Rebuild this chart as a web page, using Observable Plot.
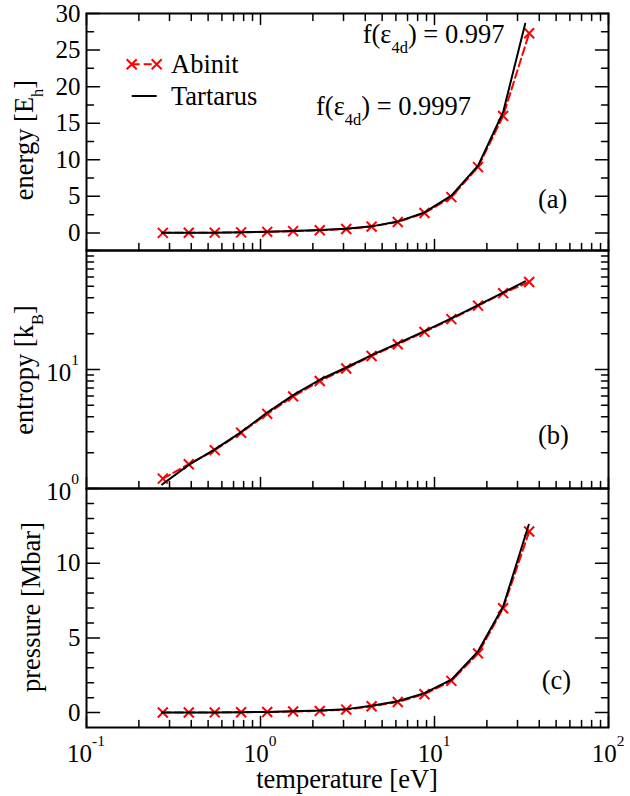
<!DOCTYPE html>
<html><head><meta charset="utf-8">
<script src="https://cdn.jsdelivr.net/npm/d3@7"></script>
<script src="https://cdn.jsdelivr.net/npm/@observablehq/plot@0.6"></script>
<style>
body{margin:0;background:#fff;}
#chart{position:relative;width:630px;height:796px;background:#fff;font-family:"Liberation Serif","Times New Roman",serif;}
#chart svg{position:absolute;left:0;overflow:visible;background:transparent;}
</style></head><body><div id="chart"></div>
<script>
// ---- data ----
const temperature = [0.2745,0.387,0.546,0.774,1.093,1.54,2.19,3.11,4.35,6.15,8.76,12.5,17.8,24.8,35.0];
const temperatureTartarus = [0.272,0.387,0.546,0.774,1.093,1.54,2.19,3.11,4.35,6.15,8.76,12.5,17.8,24.8,33.2];
const temperatureTartarusP = [0.272,0.387,0.546,0.774,1.093,1.54,2.19,3.11,4.35,6.15,8.76,12.5,17.8,24.8,34.8];
const energyAbinit   = [0.01,0.02,0.04,0.08,0.15,0.25,0.37,0.54,0.87,1.5,2.72,4.9,9.0,16.0,27.3];
const energyTartarus = [0.01,0.02,0.04,0.08,0.15,0.26,0.39,0.57,0.9,1.55,2.8,5.1,9.2,16.5,28.6];
const entropyAbinit   = [1.21,1.6,2.1,2.94,4.24,5.94,8.0,10.2,13.0,16.3,20.7,26.5,34.4,43.8,54.3];
const entropyTartarus = [1.08,1.58,2.13,2.98,4.35,6.1,8.2,10.4,13.2,16.6,21.0,26.9,34.8,44.2,55.0];
const pressureAbinit   = [0.0,0.0,0.01,0.02,0.04,0.07,0.11,0.2,0.42,0.71,1.23,2.12,3.96,6.98,12.12];
const pressureTartarus = [0.0,0.0,0.01,0.02,0.04,0.08,0.13,0.23,0.46,0.76,1.3,2.2,4.1,7.1,12.57];

const xMajor = [0.1,1,10,100];
const xExponents = ["-1","0","1","2"];
const xMinor = [0.1,1,10].flatMap(d => [2,3,4,5,6,7,8,9].map(k => k*d));
const energyTicks = [0,5,10,15,20,25,30];
const energyMinor = [2.5,7.5,12.5,17.5,22.5,27.5];
const entropyMajor = [1,10,100];
const entropyLabels = [1,10];
const entropyExponents = ["0","1"];
const entropyMinor = [1,10].flatMap(d => [2,3,4,5,6,7,8,9].map(k => k*d));
const pressureTicks = [0,5,10];
const pressureMinor = [1,2,3,4,6,7,8,9,11,12,13,14];

const FONT = '"Liberation Serif","Times New Roman",serif';
const chart = document.getElementById("chart");

const tickShape = {draw(c, l) { c.moveTo(0, 0); c.lineTo(0, -l); }};
function yTickMarks(values, len) {
  return [
    Plot.vector(values, {y: d => d, frameAnchor: "left", rotate: 90, length: len, anchor: "start", shape: tickShape, stroke: "black", strokeWidth: 1.5}),
    Plot.vector(values, {y: d => d, frameAnchor: "right", rotate: -90, length: len, anchor: "start", shape: tickShape, stroke: "black", strokeWidth: 1.5})
  ];
}
function xTickMarks(values, len, top) {
  const m = [Plot.vector(values, {x: d => d, frameAnchor: "bottom", rotate: 0, length: len, anchor: "start", shape: tickShape, stroke: "black", strokeWidth: 1.5})];
  if (top) m.push(Plot.vector(values, {x: d => d, frameAnchor: "top", rotate: 180, length: len, anchor: "start", shape: tickShape, stroke: "black", strokeWidth: 1.5}));
  return m;
}
function seriesMarks(tA, yA, tT, yT) {
  const A = tA.map((t, i) => ({t, v: yA[i]}));
  const T = tT.map((t, i) => ({t, v: yT[i]}));
  return [
    Plot.line(A, {x: "t", y: "v", stroke: "red", strokeWidth: 2, strokeDasharray: "8,4"}),
    Plot.dot(A, {x: "t", y: "v", symbol: "times", r: 4.6, stroke: "red", strokeWidth: 2}),
    Plot.line(T, {x: "t", y: "v", stroke: "black", strokeWidth: 2})
  ];
}
function rich(svg, parts, {x, y, anchor = "start", size = 26.5, rotate = 0}) {
  const t = d3.select(svg).append("text")
    .attr("transform", `translate(${x},${y})` + (rotate ? ` rotate(${rotate})` : ""))
    .attr("text-anchor", anchor).attr("font-size", size).attr("font-family", FONT).attr("fill", "black");
  let shift = 0;
  for (const p of parts) {
    const s = t.append("tspan").text(p.t);
    const target = p.sub ? size * 0.38 : p.sup ? -size * 0.66 : 0;
    if (target !== shift) { s.attr("dy", target - shift); shift = target; }
    if (p.sub || p.sup) s.attr("font-size", size * 0.62);
  }
}
function place(svg, top) { svg.style.top = top + "px"; chart.appendChild(svg); return svg; }
const common = {width: 630, marginLeft: 86, marginRight: 22,
  style: {background: "transparent", overflow: "visible", fontFamily: FONT, fontSize: "25px", color: "black"}};

// ---- panel (a) energy ----
const pa = Plot.plot({...common, height: 252, marginTop: 13, marginBottom: 2,
  x: {type: "log", domain: [0.1, 100], axis: null},
  y: {domain: [-2.4, 30], axis: null},
  marks: [
    ...yTickMarks(energyTicks, 13), ...yTickMarks(energyMinor, 7),
    ...xTickMarks(xMajor, 11, true), ...xTickMarks(xMinor, 7, true),
    Plot.axisY({ticks: energyTicks, tickSize: 0, tickPadding: 6, label: null, fontSize: 25, tickFormat: d => d}),
    ...seriesMarks(temperature, energyAbinit, temperatureTartarus, energyTartarus),
    Plot.frame({stroke: "black", strokeWidth: 2})
  ]});
place(pa, 0);
rich(pa, [{t: "energy [E"}, {t: "h", sub: true}, {t: "]"}], {x: 33, y: 140, anchor: "middle", rotate: -90});
rich(pa, [{t: "f(ε"}, {t: "4d", sub: true}, {t: ") = 0.997"}], {x: 362.7, y: 43.3});
rich(pa, [{t: "f(ε"}, {t: "4d", sub: true}, {t: ") = 0.9997"}], {x: 316, y: 115});
rich(pa, [{t: "(a)"}], {x: 538, y: 208});
// legend
{
  const g = d3.select(pa).append("g");
  g.append("line").attr("x1", 131.7).attr("x2", 156.7).attr("y1", 64.3).attr("y2", 64.3)
    .attr("stroke", "red").attr("stroke-width", 2).attr("stroke-dasharray", "8,4");
  for (const cx of [131.7, 156.7]) {
    g.append("path").attr("d", `M${cx-5},${64.3-5}L${cx+5},${64.3+5}M${cx-5},${64.3+5}L${cx+5},${64.3-5}`)
      .attr("stroke", "red").attr("stroke-width", 2);
  }
  g.append("line").attr("x1", 131.7).attr("x2", 156.7).attr("y1", 96).attr("y2", 96)
    .attr("stroke", "black").attr("stroke-width", 2);
  rich(pa, [{t: "Abinit"}], {x: 171, y: 73.3});
  rich(pa, [{t: "Tartarus"}], {x: 171, y: 105});
}

// ---- panel (b) entropy ----
const pb = Plot.plot({...common, height: 242, marginTop: 2, marginBottom: 2,
  x: {type: "log", domain: [0.1, 100], axis: null},
  y: {type: "log", domain: [1, 100], axis: null},
  marks: [
    ...yTickMarks(entropyMajor, 13), ...yTickMarks(entropyMinor, 7),
    ...xTickMarks(xMajor, 11, false), ...xTickMarks(xMinor, 7, false),
    ...seriesMarks(temperature, entropyAbinit, temperatureTartarus, entropyTartarus),
    Plot.frame({stroke: "black", strokeWidth: 2})
  ]});
place(pb, 248);
{
  const ys = pb.scale("y");
  entropyLabels.forEach((v, i) => {
    rich(pb, [{t: "10"}, {t: entropyExponents[i], sup: true}], {x: 79, y: ys.apply(v) + 12, anchor: "end", size: 25});
  });
}
rich(pb, [{t: "entropy [k"}, {t: "B", sub: true}, {t: "]"}], {x: 33, y: 122, anchor: "middle", rotate: -90});
rich(pb, [{t: "(b)"}], {x: 538, y: 196});

// ---- panel (c) pressure ----
const pc = Plot.plot({...common, height: 310, marginTop: 2, marginBottom: 69,
  x: {type: "log", domain: [0.1, 100], axis: null},
  y: {domain: [-1, 15], axis: null},
  marks: [
    ...yTickMarks(pressureTicks, 13), ...yTickMarks(pressureMinor, 7),
    ...xTickMarks(xMajor, 11, false), ...xTickMarks(xMinor, 7, false),
    Plot.axisY({ticks: pressureTicks, tickSize: 0, tickPadding: 6, label: null, fontSize: 25, tickFormat: d => d}),
    ...seriesMarks(temperature, pressureAbinit, temperatureTartarusP, pressureTartarus),
    Plot.frame({stroke: "black", strokeWidth: 2})
  ]});
place(pc, 486);
{
  const xs = pc.scale("x");
  xMajor.forEach((v, i) => {
    rich(pc, [{t: "10"}, {t: xExponents[i], sup: true}], {x: xs.apply(v), y: 276, anchor: "middle", size: 25});
  });
}
rich(pc, [{t: "pressure [Mbar]"}], {x: 40, y: 121, anchor: "middle", rotate: -90});
rich(pc, [{t: "(c)"}], {x: 541.7, y: 203});
rich(pc, [{t: "temperature [eV]"}], {x: 347, y: 302, anchor: "middle", size: 26.5});
</script></body></html>
